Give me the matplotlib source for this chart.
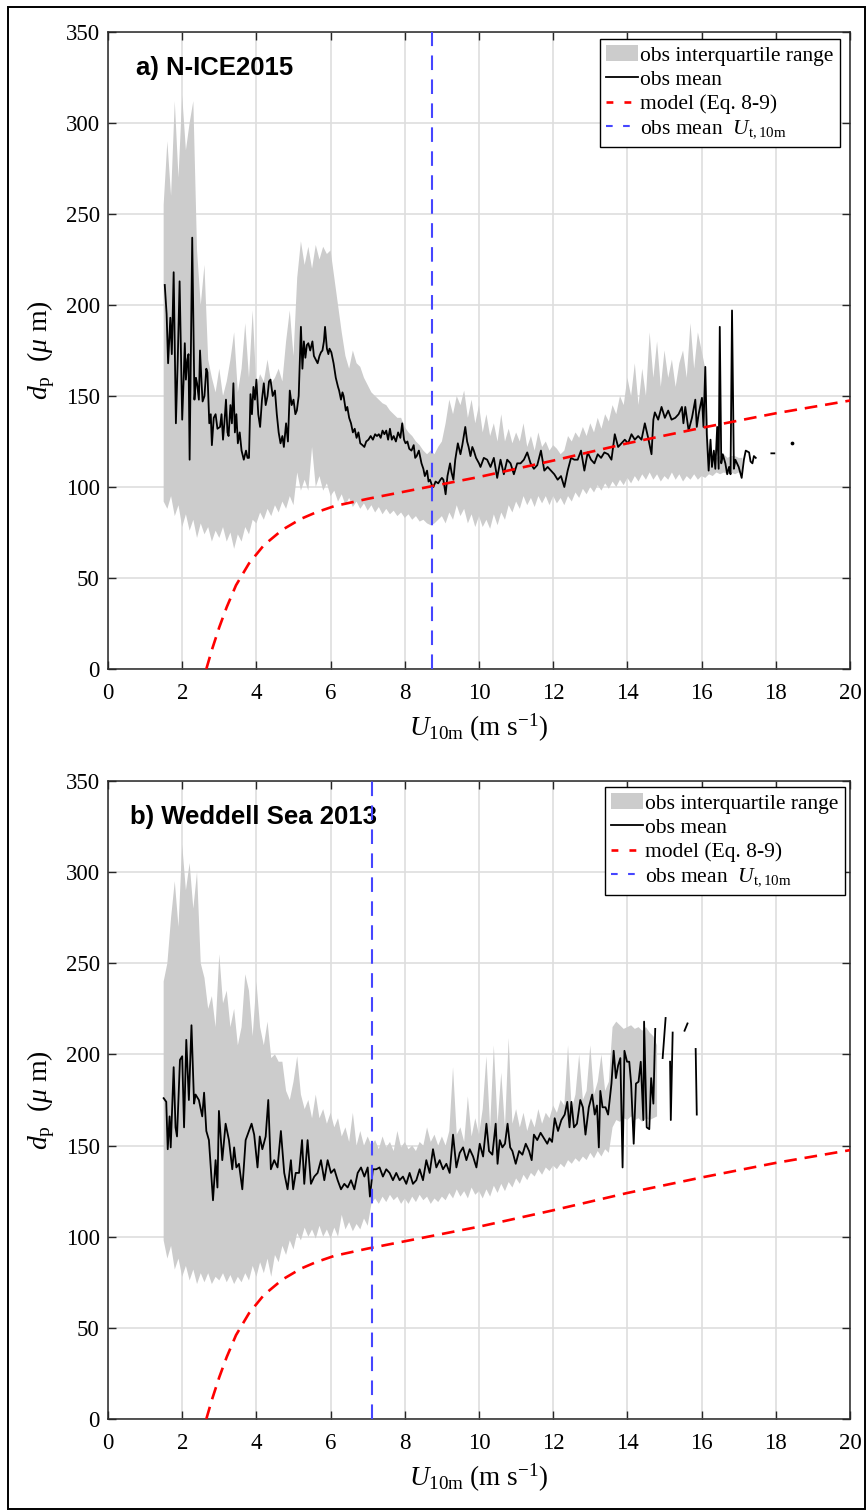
import numpy as np
import matplotlib
matplotlib.use('Agg')
import matplotlib.pyplot as plt
from matplotlib.lines import Line2D
from matplotlib.patches import Patch, Rectangle

nan = np.nan
plt.rcParams['font.family'] = ['Liberation Serif', 'DejaVu Serif']
plt.rcParams['mathtext.fontset'] = 'custom'
plt.rcParams['mathtext.rm'] = 'Liberation Serif'
plt.rcParams['mathtext.it'] = 'Liberation Serif:italic'
plt.rcParams['mathtext.bf'] = 'Liberation Serif:bold'

# ---------------- data ----------------
# model (Eq. 8-9), identical in both panels
model_u = [2.65, 2.8, 3.0, 3.2, 3.45, 3.8, 4.2, 4.7, 5.2, 5.6, 6.1, 7.0, 8.0, 9.0,
           10.0, 12.0, 14.0, 16.0, 18.0, 20.0]
model_v = [0, 10.5, 23, 34, 46, 58, 68, 76.5, 82.5, 86, 89.5, 93.5, 97.5, 101.5,
           105.5, 114.5, 124, 132.5, 140.5, 147.5]

# ---- panel a: N-ICE2015 ----
a_title = 'a) N-ICE2015'
a_ut = 8.72
a_mean_u = [1.53, 1.58, 1.62, 1.66, 1.68, 1.72, 1.77, 1.83, 1.88, 1.93, 2.00, 2.04, 2.07, 2.10,
            2.14, 2.17, 2.20, 2.27, 2.33, 2.37, 2.40, 2.45, 2.48, 2.52, 2.55, 2.60, 2.65, 2.68,
            2.73, 2.77, 2.80, 2.85, 2.90, 2.95, 3.02, 3.06, 3.10, 3.14, 3.18, 3.22, 3.25, 3.30,
            3.34, 3.38, 3.42, 3.46, 3.50, 3.55, 3.60, 3.66, 3.72, 3.76, 3.80, 3.84, 3.88, 3.92,
            3.96, 4.00, 4.05, 4.10, 4.15, 4.20, 4.25, 4.30, 4.34, 4.38, 4.44, 4.50, 4.55, 4.60,
            4.65, 4.70, 4.74, 4.80, 4.85, 4.90, 4.95, 5.00, 5.05, 5.09, 5.14, 5.20, 5.24, 5.28,
            5.32, 5.36, 5.40, 5.45, 5.51, 5.55, 5.60, 5.65, 5.70, 5.74, 5.78, 5.82, 5.85, 5.90,
            5.94, 5.97, 6.02, 6.08, 6.14, 6.20, 6.23, 6.28, 6.32, 6.35, 6.41, 6.45, 6.50, 6.55,
            6.60, 6.65, 6.70, 6.75, 6.80, 6.86, 6.91, 6.96, 7.02, 7.08, 7.14, 7.20, 7.25, 7.30,
            7.35, 7.40, 7.45, 7.50, 7.55, 7.60, 7.65, 7.70, 7.76, 7.82, 7.88, 7.93, 7.98, 8.02,
            8.07, 8.12, 8.18, 8.24, 8.28, 8.32, 8.38, 8.45, 8.50, 8.54, 8.60, 8.64, 8.68, 8.73,
            8.77, 8.83, 8.90, 8.96, 9.00, 9.04, 9.10, 9.15, 9.22, 9.26, 9.31, 9.36, 9.43, 9.50,
            9.55, 9.63, 9.68, 9.72, 9.77, 9.82, 9.86, 9.92, 10.00, 10.04,
            10.13, 10.22, 10.31, 10.40, 10.49, 10.58, 10.67, 10.76, 10.85, 10.94, 11.03, 11.12,
            11.21, 11.30, 11.39, 11.48, 11.57, 11.67, 11.76, 11.85, 11.94, 12.03, 12.12, 12.21,
            12.30, 12.39, 12.48, 12.57, 12.66, 12.75, 12.84, 12.93, 13.02, 13.11, 13.20, 13.29,
            13.38, 13.48, 13.57, 13.66, 13.75, 13.84, 13.93, 14.02, 14.11, 14.20, 14.29, 14.38,
            14.47, 14.56, 14.65, 14.70, 14.74, 14.83, 14.92, 15.01, 15.10, 15.19, 15.29, 15.38,
            15.47, 15.51, 15.56, 15.65, 15.74, 15.83, 15.87, 15.92, 16.01, 16.05, 16.10, 16.14,
            16.19, 16.24, 16.28, 16.33, 16.37, 16.42, 16.46, 16.49, 16.53, 16.57, 16.64, 16.69,
            16.74, 16.78, 16.82, 16.87, 16.91, 17.00, 17.08, 17.14, 17.19, 17.28, 17.32, 17.37,
            17.41, 17.46, 17.70, 17.88, 17.96]
a_mean_v = [211, 195, 168, 185, 193, 173, 218, 135, 170, 213, 137, 160, 179, 159,
            170, 173, 115, 237, 148, 160, 157, 148, 175, 158, 147, 150, 165, 163,
            135, 140, 123, 138, 140, 132, 133, 140, 126, 136, 148, 130, 128, 145,
            135, 157, 130, 140, 124, 130, 120, 115, 120, 116, 116, 151, 140, 155,
            148, 159, 140, 133, 148, 157, 145, 150, 158, 159, 150, 153, 140, 130,
            124, 128, 122, 135, 125, 153, 145, 148, 140, 142, 150, 188, 165, 180,
            171, 178, 179, 175, 180, 172, 170, 168, 172, 174, 175, 180, 188, 176,
            173, 176, 174, 168, 160, 155, 153, 148, 152, 150, 142, 144, 138, 135,
            130, 132, 127, 130, 124, 123, 122, 125, 126, 128, 126, 129, 128, 129,
            127, 131, 129, 131, 126, 132, 126, 128, 125, 130, 127, 135, 126, 124,
            125, 121, 120, 123, 116, 117, 120, 113, 110, 106, 109, 103, 104, 101,
            100, 103, 102, 104, 105, 104, 96, 106, 113, 108, 104, 115, 124, 118,
            123, 133, 125, 122, 117, 122, 120, 116, 113, 111,
            116, 115, 111, 116, 105, 115, 107, 115, 113, 107, 113, 113,
            115, 119, 113, 110, 112, 120, 109, 111, 109, 107, 104, 106,
            100, 109, 116, 115, 115, 120, 109, 119, 115, 113, 118, 116,
            119, 118, 115, 129, 122, 124, 126, 124, 129, 126, 128, 126,
            135, 127, 118, 137, 141, 137, 144, 138, 142, 137, 138, 140,
            144, 135, 144, 131, 138, 148, 133, 140, 149, 133, 166, 129,
            109, 126, 111, 120, 110, 133, 110, 188, 113, 118, 113, 107,
            111, 107, 197, 110, 115, 111, 105, 115, 120, 119, 114, 113,
            117, 116, nan, 118.5, 118.5]
a_dot_u = [18.43]
a_dot_v = [124]
a_band_start = 1.5
a_band_hi = [255, 290, 260, 312, 270, 315, 285, 300, 312, 230,
             200, 222, 170, 160, 152, 165, 150, 158, 170, 185,
             152, 165, 190, 160, 197, 155, 162, 158, 170, 157,
             160, 165, 158, 180, 197, 172, 215, 235, 222, 232,
             220, 233, 225, 232, 228, 230, 215, 200, 185, 172,
             165, 175, 168, 166, 160, 156, 152, 150, 148, 146,
             145, 142, 140, 138, 138, 133, 130, 128, 125, 123,
             120, 118, 120, 118, 122, 125, 135, 148, 140, 150,
             145, 153, 138, 148, 135, 145, 130, 140, 128, 135,
             125, 140, 125, 132, 124, 130, 125, 135, 122, 128,
             120, 130, 122, 125, 120, 123, 121, 118, 120, 128,
             125, 130, 127, 133, 128, 135, 130, 138, 132, 140,
             136, 145, 140, 150, 145, 160, 150, 168, 145, 165,
             150, 185, 160, 180, 155, 175, 160, 170, 155, 168,
             175, 160, 190, 165, 185, 175, 165, 118, 117, 116,
             117, 118, 116, 117, 117, 116, 116]
a_band_lo = [92, 88, 95, 84, 90, 78, 85, 76, 82, 72,
             80, 74, 78, 70, 76, 72, 78, 70, 75, 66,
             74, 70, 78, 74, 82, 80, 86, 82, 88, 84,
             90, 86, 92, 88, 95, 90, 108, 98, 104, 98,
             122, 100, 106, 98, 102, 95, 98, 92, 96, 90,
             94, 89, 92, 88, 91, 87, 90, 86, 89, 85,
             88, 85, 87, 84, 86, 83, 85, 82, 84, 81,
             82, 80, 79, 80, 82, 84, 80, 86, 82, 90,
             84, 88, 80, 85, 78, 84, 78, 82, 77, 85,
             79, 86, 82, 90, 86, 92, 88, 95, 90, 94,
             89, 95, 91, 95, 90, 95, 91, 94, 90, 95,
             92, 97, 94, 99, 96, 100, 97, 101, 98, 102,
             99, 103, 100, 104, 101, 105, 102, 106, 103, 107,
             104, 108, 104, 107, 103, 106, 104, 108, 104, 107,
             103, 106, 104, 107, 104, 106, 105, 107, 106, 108,
             107, 108, 107, 108, 107, 108, 108]

# ---- panel b: Weddell Sea 2013 ----
b_title = 'b) Weddell Sea 2013'
b_ut = 7.12
b_mean_u = [1.50, 1.57, 1.61, 1.66, 1.69, 1.77, 1.82, 1.86, 1.94, 2.00, 2.05, 2.11, 2.18, 2.25,
            2.32, 2.36, 2.45, 2.54, 2.59, 2.65, 2.72, 2.83, 2.90, 2.95, 2.99, 3.08, 3.17, 3.26,
            3.35, 3.40, 3.46, 3.53, 3.62, 3.71, 3.80, 3.87, 3.94, 4.03, 4.09, 4.16, 4.25, 4.32,
            4.39, 4.48, 4.57, 4.66, 4.75, 4.84, 4.93, 4.99, 5.06, 5.15, 5.23, 5.29, 5.38, 5.47,
            5.56, 5.65, 5.74, 5.83, 5.92, 6.01, 6.10, 6.19, 6.28, 6.37, 6.46, 6.55, 6.64, 6.73,
            6.82, 6.91, 7.00, 7.06, 7.14, 7.23, 7.32, 7.41, 7.50, 7.59, 7.68, 7.77, 7.86, 7.95,
            8.04, 8.13, 8.22, 8.31, 8.40, 8.49, 8.58, 8.67, 8.76, 8.85, 8.94, 9.03, 9.12, 9.21,
            9.30, 9.39, 9.48, 9.57, 9.66, 9.75, 9.84, 9.93, 10.02, 10.11, 10.20, 10.27,
            10.36, 10.45, 10.50, 10.56, 10.63, 10.70, 10.77, 10.84, 10.90, 10.99, 11.08, 11.17,
            11.26, 11.35, 11.42, 11.48, 11.57, 11.66, 11.75, 11.84, 11.90, 11.97, 12.04, 12.13,
            12.22, 12.31, 12.38, 12.44, 12.49, 12.56, 12.64, 12.73, 12.80, 12.87, 12.96, 13.05,
            13.12, 13.18, 13.23, 13.27, 13.33, 13.41, 13.48, 13.57, 13.63, 13.69, 13.75, 13.81,
            13.87, 13.92, 13.99, 14.05, 14.10, 14.17, 14.23, 14.30, 14.36, 14.43, 14.45, 14.52,
            14.59, 14.64, 14.70, 14.75, 14.85, 14.95, 15.03, 15.09, 15.15, 15.17, 15.22, 15.40,
            15.54, 15.62, 15.75, 15.84, 15.87]
b_mean_v = [176, 174, 148, 166, 149, 193, 160, 155, 197, 199, 160, 208, 175, 216,
            173, 178, 175, 166, 179, 158, 153, 120, 142, 127, 169, 142, 162, 153,
            137, 149, 138, 140, 126, 153, 158, 162, 156, 138, 155, 148, 155, 175,
            137, 142, 138, 158, 135, 126, 142, 126, 135, 135, 153, 129, 153, 129,
            133, 135, 142, 131, 142, 135, 137, 131, 126, 129, 127, 131, 126, 135,
            138, 133, 138, 122, 137, 137, 138, 133, 137, 135, 131, 135, 131, 133,
            129, 135, 129, 131, 137, 131, 142, 135, 148, 138, 142, 137, 140, 135,
            156, 138, 146, 149, 142, 148, 144, 138, 151, 144, 162, 147,
            145, 162, 140, 153, 149, 151, 162, 149, 147, 140, 147, 145,
            151, 147, 142, 156, 153, 157, 154, 151, 154, 152, 165, 158,
            164, 167, 174, 160, 174, 160, 162, 175, 171, 156, 171, 178,
            167, 172, 149, 180, 171, 171, 167, 184, 202, 187, 194, 198,
            138, 202, 196, 196, 184, 151, 184, 185, 196, 164, 218, 160,
            159, 187, 173, 214, nan, 198, 220, nan, 196, 164, 212, nan,
            213, 217, nan, 203, 167]
b_band_start = 1.5
b_band_hi = [240, 250, 275, 295, 270, 315, 290, 305, 280, 300,
             250, 242, 225, 232, 215, 255, 228, 235, 215, 225,
             205, 215, 244, 235, 210, 240, 215, 205, 218, 198,
             200, 196, 196, 180, 175, 185, 199, 178, 170, 175,
             165, 178, 165, 170, 162, 168, 160, 165, 155, 160,
             152, 168, 150, 158, 150, 155, 150, 153, 148, 155,
             149, 152, 147, 158, 149, 152, 148, 150, 147, 152,
             150, 160, 152, 156, 150, 155, 150, 158, 193, 156,
             160, 152, 177, 155, 165, 156, 170, 199, 160, 205,
             162, 190, 160, 209, 162, 170, 160, 168, 158, 165,
             160, 170, 162, 168, 165, 172, 168, 175, 172, 205,
             170, 178, 200, 175, 180, 205, 178, 185, 200, 180,
             185, 215, 218, 216, 214, 215, 216, 214, 215, 213,
             215, 212, 210, 205]
b_band_lo = [98, 88, 95, 82, 88, 78, 84, 76, 82, 74,
             80, 75, 80, 74, 78, 76, 80, 75, 79, 74,
             78, 75, 80, 76, 84, 78, 86, 80, 88, 78,
             90, 86, 95, 90, 98, 93, 102, 98, 105, 100,
             104, 99, 106, 100, 104, 99, 105, 100, 112, 104,
             108, 103, 107, 104, 110, 106, 118, 121, 118, 122,
             119, 123, 120, 122, 118, 121, 118, 122, 119, 123,
             120, 122, 118, 121, 119, 122, 120, 124, 121, 126,
             122, 125, 121, 127, 123, 125, 121, 126, 122, 128,
             124, 129, 125, 130, 127, 132, 129, 134, 131, 135,
             133, 137, 134, 138, 136, 139, 137, 140, 138, 142,
             140, 143, 141, 144, 142, 146, 143, 147, 144, 148,
             146, 160, 164, 163, 165, 164, 166, 164, 165, 163,
             165, 164, 165, 166]

x_ticks = [0, 2, 4, 6, 8, 10, 12, 14, 16, 18, 20]
y_ticks = [0, 50, 100, 150, 200, 250, 300, 350]
legend_labels = ['obs interquartile range', 'obs mean', 'model (Eq. 8-9)',
                 r'obs mean  $U_{\mathrm{t,10m}}$']

# ---------------- figure ----------------
W, H = 867, 1512
fig = plt.figure(figsize=(W / 100, H / 100), dpi=100)
fig.add_artist(Rectangle((8 / W, 1 - 1509 / H), (865 - 8) / W, (1509 - 7) / H,
                         transform=fig.transFigure, fill=False, edgecolor='black',
                         linewidth=1.4))

GRAY = '#cccccc'
RED = '#ff0000'
BLUE = '#4646ff'


def band_axis(start, n):
    return np.round(start + 0.1 * np.arange(n), 2)


def panel(rect, title, title_x, ut, mean_u, mean_v, band_start, hi, lo,
          dot_u, dot_v, leg_anchor):
    ax = fig.add_axes(rect)
    bu = band_axis(band_start, len(hi))
    ax.fill_between(bu, lo, hi, facecolor=GRAY, edgecolor='none', linewidth=0, zorder=2)
    ax.plot(mean_u, mean_v, color='black', lw=1.3, zorder=3)
    if dot_u:
        ax.plot(dot_u, dot_v, 'o', color='black', ms=1.7, zorder=3)
    ax.plot(model_u, model_v, color=RED, lw=1.9, dashes=(4.8, 3.0), zorder=4)
    ax.axvline(ut, color=BLUE, lw=1.5, dashes=(7, 4.5), zorder=4)

    ax.set_xlim(0, 20)
    ax.set_ylim(0, 350)
    ax.set_xticks(x_ticks)
    ax.set_yticks(y_ticks)
    ax.set_axisbelow(True)
    ax.grid(True, color='#dedede', lw=1.2)
    ax.tick_params(direction='in', length=5.5, width=1.0, top=True, right=True,
                   labelsize=16.5, pad=6, color='#262626')
    ax.tick_params(axis='x', pad=10)
    for s in ax.spines.values():
        s.set_linewidth(1.1)
        s.set_color('#262626')

    ax.set_xlabel(r'$U_{\mathrm{10m}}$ (m s$^{\mathrm{-1}}$)', fontsize=19.5, labelpad=6)
    ax.set_ylabel(r'$d_{\mathrm{p}}$  ($\mu$ m)', fontsize=20, labelpad=6)
    ax.text(title_x, 0.9435, title, transform=ax.transAxes, fontsize=18.5,
            fontweight='bold', family='Liberation Sans', va='center', ha='left')

    handles = [Patch(facecolor=GRAY, edgecolor='none'),
               Line2D([], [], color='black', lw=1.3),
               Line2D([], [], color=RED, lw=1.9, dashes=(2.6, 4.2)),
               Line2D([], [], color=BLUE, lw=1.5, dashes=(3.2, 5.0))]
    leg = ax.legend(handles, legend_labels, loc='upper right', bbox_to_anchor=leg_anchor,
                    fontsize=15.5, frameon=True, fancybox=False, framealpha=1,
                    edgecolor='black', handlelength=1.45, handletextpad=0.12,
                    borderpad=0.3, labelspacing=0.2, borderaxespad=0)
    leg.get_frame().set_linewidth(1.0)
    leg.set_zorder(10)
    return ax


ax_a = panel([108 / W, 1 - 669 / H, 742 / W, 637 / H], a_title, 0.0377, a_ut,
             a_mean_u, a_mean_v, a_band_start, a_band_hi, a_band_lo,
             a_dot_u, a_dot_v, (0.9865, 0.989))
ax_b = panel([108 / W, 1 - 1419 / H, 742 / W, 638 / H], b_title, 0.0296, b_ut,
             b_mean_u, b_mean_v, b_band_start, b_band_hi, b_band_lo,
             [], [], (0.9933, 0.9906))

fig.savefig('out.png', dpi=100)
